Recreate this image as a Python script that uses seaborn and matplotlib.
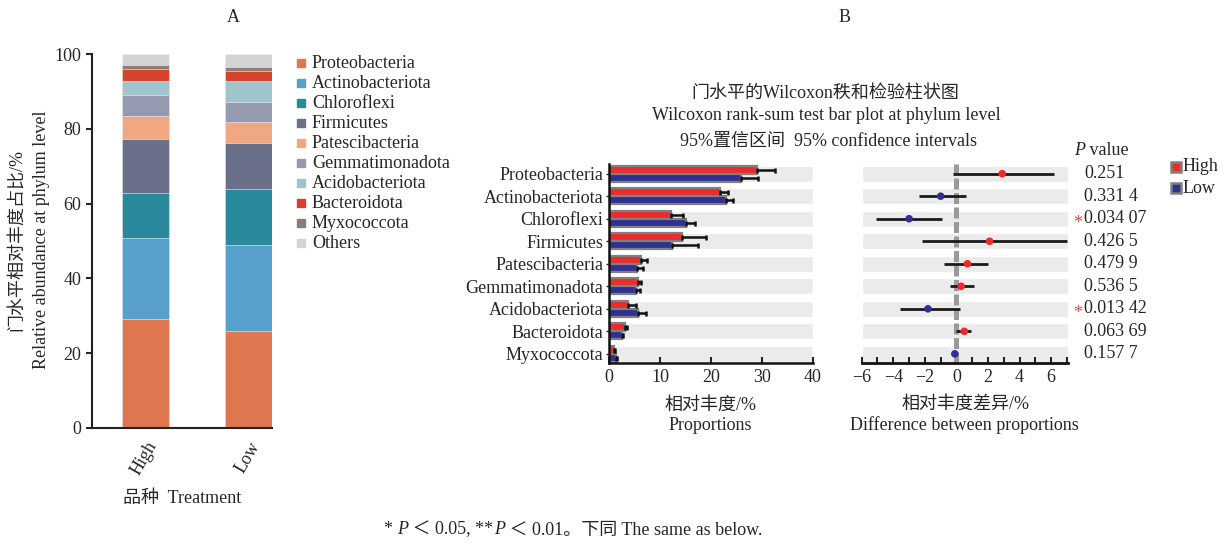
import numpy as np
import pandas as pd
import matplotlib
matplotlib.use('Agg')
import matplotlib.pyplot as plt
from matplotlib.patches import Rectangle
from matplotlib.ticker import MultipleLocator
from matplotlib.transforms import blended_transform_factory
from matplotlib.offsetbox import TextArea, HPacker, AnchoredOffsetbox
import seaborn as sns

# ---- data ----
groups = ['High', 'Low']
phyla = ['Proteobacteria', 'Actinobacteriota', 'Chloroflexi', 'Firmicutes',
         'Patescibacteria', 'Gemmatimonadota', 'Acidobacteriota', 'Bacteroidota',
         'Myxococcota']
stack_names = phyla + ['Others']

# relative abundance (%) per phylum
high_abund = [29.0, 21.7, 12.2, 14.3, 6.2, 5.7, 3.8, 3.2, 1.0]
low_abund = [26.0, 22.9, 15.1, 12.3, 5.5, 5.4, 5.7, 2.5, 1.3]
others_abund = [2.9, 3.3]

# error bars of panel B (one sided)
high_err = [3.5, 1.7, 2.4, 4.8, 1.2, 0.5, 1.6, 0.3, 0.2]
low_err = [3.3, 1.4, 1.8, 5.1, 1.1, 0.6, 1.5, 0.3, 0.2]

# difference between proportions and 95% CI
diff_mean = [2.9, -1.0, -3.0, 2.1, 0.7, 0.3, -1.8, 0.5, -0.1]
ci_low = [-0.2, -2.4, -5.1, -2.2, -0.8, -0.4, -3.6, 0.0, -0.25]
ci_high = [6.2, 0.6, -0.9, 7.0, 2.0, 1.1, 0.2, 0.95, 0.05]
p_values = ['0.251', '0.331 4', '0.034 07', '0.426 5', '0.479 9', '0.536 5',
            '0.013 42', '0.063 69', '0.157 7']

stack_colors = ['#DE7650', '#56A0CB', '#2A8A9C', '#6A7089', '#F0A883',
                '#969AB0', '#9FC4CB', '#D5432E', '#8C7E72', '#D3D3D5']
red = '#EE2A2A'
blue = '#2E3192'
edge_grey = '#808080'
row_grey = '#EBEBEB'

# ---- style ----
sns.set_style('ticks')
plt.rcParams['font.family'] = ['Liberation Serif', 'Noto Sans CJK SC']
plt.rcParams['axes.unicode_minus'] = True
FS = 13
plt.rcParams['font.size'] = FS

W, H = 1228, 546
def fx(px):
    return px / W
def fy(py):
    return 1 - py / H

fig = plt.figure(figsize=(12.28, 5.46), dpi=100)

# ================= Panel A: stacked bars =================
axA = fig.add_axes([fx(91.7), fy(427.7), 180 / W, 373.4 / H])
values_by_group = np.array([high_abund + [others_abund[0]], low_abund + [others_abund[1]]])
cum = np.cumsum(values_by_group, axis=1)
# draw cumulative heights from the top layer down so each layer covers the next
for i in reversed(range(len(stack_names))):
    sns.barplot(x=groups, y=cum[:, i], color=stack_colors[i], width=0.455,
                saturation=1, edgecolor='#F4F4F4', linewidth=0.4, ax=axA)
axA.set_xlim(-0.526, 1.228)
axA.set_ylim(0, 100)
axA.set_yticks(range(0, 101, 20))
axA.set_ylabel('')
axA.set_xlabel('')
sns.despine(ax=axA)
for s in ['left', 'bottom']:
    axA.spines[s].set_linewidth(1.5)
    axA.spines[s].set_color('#222222')
axA.tick_params(axis='y', direction='out', length=4, width=1.5, labelsize=FS)
axA.tick_params(axis='x', direction='in', length=6, width=1.5, labelsize=FS, pad=8)
for lab in axA.get_xticklabels():
    lab.set_rotation(60)
    lab.set_ha('right')
    lab.set_va('top')
    lab.set_rotation_mode('anchor')

fig.text(fx(233), fy(18), 'A', ha='center', va='center', fontsize=FS)
fig.text(fx(17), fy(240), '门水平相对丰度占比/%', rotation=90, ha='center', va='center', fontsize=FS)
fig.text(fx(42), fy(240), 'Relative abundance at phylum level', rotation=90,
         ha='center', va='center', fontsize=FS)
fig.text(fx(182), fy(499), '品种  Treatment', ha='center', va='center', fontsize=FS)

# legend A
for i, name in enumerate(stack_names):
    yc = 63.3 + i * 20.0
    fig.patches.append(Rectangle((fx(297), fy(yc + 4)), 8 / W, 8 / H,
                                 transform=fig.transFigure, color=stack_colors[i]))
    fig.text(fx(312), fy(yc), name, ha='left', va='center', fontsize=FS)

# ================= Panel B left: proportions =================
axL = fig.add_axes([fx(609), fy(363.3), 203.7 / W, 199.3 / H])
ypos = np.arange(len(phyla))
axL.barh(ypos, 40, height=0.71, color=row_grey, zorder=0)
dfB = pd.DataFrame({'phylum': phyla * 2,
                    'group': ['High'] * len(phyla) + ['Low'] * len(phyla),
                    'abund': high_abund + low_abund})
sns.barplot(data=dfB, x='abund', y='phylum', hue='group', order=phyla,
            hue_order=groups, palette=[red, blue], width=0.72, orient='h',
            edgecolor=edge_grey, linewidth=1.6, errorbar=None, saturation=1,
            legend=False, ax=axL, zorder=2)
axL.errorbar(high_abund, ypos - 0.18, xerr=[np.zeros(len(phyla)), high_err],
             fmt='none', ecolor='#111111', elinewidth=1.8, capsize=1.8, capthick=1.8, zorder=3)
axL.errorbar(low_abund, ypos + 0.18, xerr=[np.zeros(len(phyla)), low_err],
             fmt='none', ecolor='#111111', elinewidth=1.8, capsize=1.8, capthick=1.8, zorder=3)
axL.set_xlim(0, 40)
axL.set_ylim(8.42, -0.43)
axL.set_xticks(range(0, 41, 10))
axL.set_xlabel('')
axL.set_ylabel('')
sns.despine(ax=axL)
for s in ['left', 'bottom']:
    axL.spines[s].set_linewidth(1.8)
    axL.spines[s].set_color('#111111')
axL.tick_params(axis='x', direction='in', length=4, width=1.5, labelsize=FS, pad=4)
axL.tick_params(axis='y', direction='out', length=2, width=1, labelsize=FS, pad=2)
fig.text(fx(710), fy(405), '相对丰度/%', ha='center', va='center', fontsize=FS)
fig.text(fx(710), fy(425), 'Proportions', ha='center', va='center', fontsize=FS)

# ================= Panel B right: differences =================
axR = fig.add_axes([fx(861.7), fy(363.3), 206 / W, 199.3 / H])
axR.barh(ypos, 13.1, left=-6, height=0.71, color=row_grey, zorder=0)
axR.axvline(0, color='#9A9A9A', lw=3.6, ls=(0, (2.2, 0.7)), zorder=1)
axR.hlines(ypos, ci_low, ci_high, color='#1A1A1A', lw=2.0, zorder=2)
dot_group = ['High' if d > 0 else 'Low' for d in diff_mean]
sns.scatterplot(x=diff_mean, y=ypos, hue=dot_group, palette={'High': red, 'Low': blue},
                s=30, linewidth=0, legend=False, ax=axR, zorder=3)
axR.set_xlim(-6, 7.05)
axR.set_ylim(8.42, -0.43)
axR.set_xticks(range(-6, 7, 2))
axR.xaxis.set_minor_locator(MultipleLocator(1))
axR.set_yticks([])
sns.despine(ax=axR, left=True)
axR.spines['bottom'].set_linewidth(2)
axR.spines['bottom'].set_color('#111111')
axR.tick_params(axis='x', which='both', direction='in', length=4, width=1.5,
                labelsize=FS, pad=4)
fig.text(fx(965), fy(404), '相对丰度差异/%', ha='center', va='center', fontsize=FS)
fig.text(fx(964), fy(425), 'Difference between proportions', ha='center', va='center', fontsize=FS)

# P values
trans = blended_transform_factory(fig.transFigure, axR.transData)
for i, pv in enumerate(p_values):
    axR.text(fx(1084), i, pv, transform=trans, ha='left', va='center', fontsize=FS)
    if float(pv.replace(' ', '')) < 0.05:
        axR.text(fx(1078), i + 0.2, '*', transform=trans, ha='center', va='center',
                 fontsize=FS, color='#F04040')
header = HPacker(children=[TextArea('P', textprops=dict(fontsize=FS, style='italic')),
                           TextArea(' value', textprops=dict(fontsize=FS))],
                 sep=0, align='baseline', pad=0)
fig.add_artist(AnchoredOffsetbox(loc='center left', child=header, pad=0, frameon=False,
                                 bbox_to_anchor=(fx(1074), fy(150.5)),
                                 bbox_transform=fig.transFigure, borderpad=0))

# legend B
for k, (g, c) in enumerate(zip(groups, [red, blue])):
    yc = 166.7 + k * 21.6
    fig.patches.append(Rectangle((fx(1170.5), fy(yc + 5)), 10 / W, 10 / H,
                                 transform=fig.transFigure, facecolor=c,
                                 edgecolor=edge_grey, linewidth=1.8))
    fig.text(fx(1183), fy(yc), g, ha='left', va='center', fontsize=FS)

# titles of panel B
fig.text(fx(845), fy(18), 'B', ha='center', va='center', fontsize=FS)
fig.text(fx(825), fy(93), '门水平的Wilcoxon秩和检验柱状图', ha='center', va='center', fontsize=FS)
fig.text(fx(826), fy(115), 'Wilcoxon rank-sum test bar plot at phylum level',
         ha='center', va='center', fontsize=FS)
fig.text(fx(828), fy(141), '95%置信区间  95% confidence intervals',
         ha='center', va='center', fontsize=FS)

# footnote
it = dict(fontsize=FS, style='italic')
rm = dict(fontsize=FS)
foot = HPacker(children=[TextArea('* ', textprops=rm), TextArea('P', textprops=it),
                         TextArea(' ＜ 0.05, **', textprops=rm), TextArea('P', textprops=it),
                         TextArea(' ＜ 0.01。下同 The same as below.', textprops=rm)],
               sep=0, align='baseline', pad=0)
fig.add_artist(AnchoredOffsetbox(loc='center', child=foot, pad=0, frameon=False,
                                 bbox_to_anchor=(fx(573), fy(530)),
                                 bbox_transform=fig.transFigure, borderpad=0))

fig.savefig('out.png', dpi=100)
